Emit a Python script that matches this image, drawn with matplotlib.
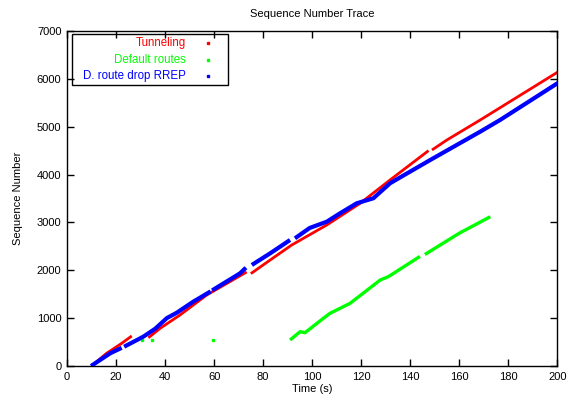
import numpy as np
import matplotlib
matplotlib.use("Agg")
import matplotlib.pyplot as plt
from matplotlib.patches import Rectangle

plt.rcParams['font.family'] = ['Liberation Sans', 'DejaVu Sans']

# Tunneling (red) segments: x (s), sequence number
red_x = [[10, 16, 22.3, 26.4],
         [33.2, 38, 46.1, 57, 65, 73.3],
         [75, 82.9, 91.7, 106, 119.6, 131.8, 147.5],
         [148.9, 155, 168.6, 200.5]]
red_y = [[0, 260, 474, 627],
         [590, 788, 1066, 1484, 1720, 1965],
         [1930, 2215, 2529, 2947, 3400, 3887, 4500],
         [4514, 4723, 5141, 6151]]

# Default routes (green)
green_dot_x = [30.5, 34.6, 59.5]
green_dot_y = [543, 543, 543]
green_x = [[91, 95.1, 97.1, 104.6, 107.3, 115.5, 127.8, 131.1, 144],
           [146, 160, 172.7]]
green_y = [[543, 717, 696, 997, 1101, 1310, 1797, 1866, 2290],
           [2330, 2773, 3120]]

# D. route drop RREP (blue)
blue_x = [[9.8, 17.6, 22.3],
          [23.3, 31.1, 36, 40.7, 44.8, 51.5, 56, 58.6],
          [59.2, 70.6, 73],
          [75.4, 82.9, 91],
          [93, 99, 106, 111.4, 118.2, 125, 131.8, 134.6, 148.2, 168.6, 176.7, 200.5]]
blue_y = [[0, 265, 380],
          [403, 612, 780, 1000, 1114, 1344, 1480, 1560],
          [1580, 1937, 2055],
          [2111, 2355, 2633],
          [2668, 2884, 3016, 3191, 3400, 3505, 3818, 3902, 4305, 4897, 5141, 5921]]

labels = ["Tunneling", "Default routes", "D. route drop RREP"]
colors = ["#ff0000", "#00ff00", "#0000ff"]

fig = plt.figure(figsize=(5.68, 4.0), dpi=100)
ax = fig.add_axes([0.118, 0.085, 0.863, 0.8375])

for xs, ys in zip(red_x, red_y):
    ax.plot(xs, ys, color=colors[0], lw=2.0, solid_capstyle='butt', zorder=2)
for xs, ys in zip(green_x, green_y):
    ax.plot(xs, ys, color=colors[1], lw=2.4, solid_capstyle='butt', zorder=2)
ax.plot(green_dot_x, green_dot_y, ls='none', marker='s', ms=2, color=colors[1], zorder=2)
for xs, ys in zip(blue_x, blue_y):
    ax.plot(xs, ys, color=colors[2], lw=3.0, solid_capstyle='butt', zorder=3)

ax.set_xlim(0, 200)
ax.set_ylim(0, 7000)
ax.set_xticks(np.arange(0, 201, 20))
ax.set_yticks(np.arange(0, 7001, 1000))
ax.tick_params(direction='in', length=5, width=1, top=True, right=True,
               labelsize=8, pad=4)
for s in ax.spines.values():
    s.set_linewidth(1.0)

ax.set_title("Sequence Number Trace", fontsize=8, pad=10)
ax.set_xlabel("Time (s)", fontsize=8, labelpad=2)
ax.set_ylabel("Sequence Number", fontsize=8, labelpad=10)

# gnuplot-style key
ax.add_patch(Rectangle((0.0102, 0.839), 0.3184, 0.152, transform=ax.transAxes,
                       fill=False, edgecolor='black', lw=1.0, zorder=5, clip_on=False))
rows = [0.964, 0.914, 0.866]
for lab, col, yy in zip(labels, colors, rows):
    ax.text(0.243, yy, lab, transform=ax.transAxes, ha='right', va='center',
            color=col, fontsize=8.3, zorder=6)
    ax.plot([0.288], [yy], transform=ax.transAxes, marker='s', ms=1.6, color=col,
            ls='none', zorder=6, clip_on=False)

fig.savefig("out.png", dpi=100)
